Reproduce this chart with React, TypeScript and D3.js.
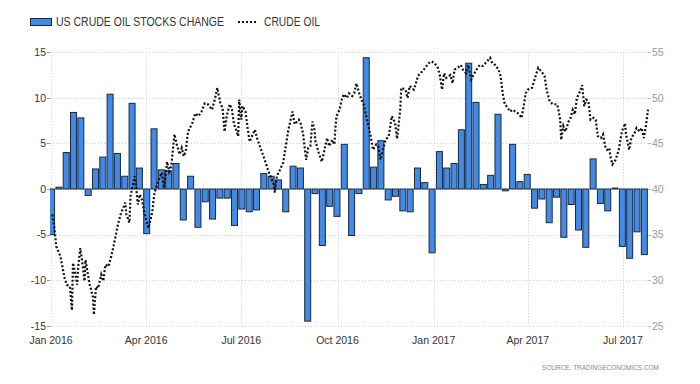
import React from "react";
import * as d3 from "d3";

// weekly change in US crude stocks (million barrels), one bar per week from 1 Jan 2016
const stockChanges = [
  -5.0, 0.2, 4.0, 8.4, 7.8, -0.7, 2.2, 3.5, 10.4, 3.9, 1.4, 9.4, 2.3, -4.9, 6.6, 2.1,
  2.0, 2.8, -3.4, 1.4, -4.2, -1.4, -3.3, -1.0, -1.0, -4.0, -2.2, -2.5, -2.3, 1.7, 1.4,
  1.0, -2.5, 2.5, 2.3, -14.5, -0.5, -6.2, -1.9, -3.0, 4.9, -5.1, -0.5, 14.4, 2.4, 5.3,
  -1.2, -0.8, -2.4, -2.5, 2.3, 0.7, -7.0, 4.1, 2.3, 2.8, 6.5, 13.8, 9.5, 0.5, 1.5, 8.2,
  -0.2, 4.9, 0.8, 1.6, -2.1, -1.1, -3.7, -0.9, -5.3, -1.7, -4.5, -6.4, 3.3, -1.6, -2.4,
  0.1, -6.3, -7.6, -4.7, -7.2,
];
const firstWeek = "2016-01-01";

// crude oil price (USD/bbl), right axis
const crudeOil: [string, number][] = [
  ["2016-01-02", 37.2], ["2016-01-04", 35.9], ["2016-01-06", 33.7], ["2016-01-10", 32.6],
  ["2016-01-13", 30.8], ["2016-01-14", 30.2], ["2016-01-16", 29.5], ["2016-01-19", 29.3],
  ["2016-01-21", 26.7], ["2016-01-22", 31.9], ["2016-01-24", 30.8], ["2016-01-26", 29.5],
  ["2016-01-27", 31.5], ["2016-01-29", 33.5], ["2016-01-31", 31.9], ["2016-02-02", 29.9],
  ["2016-02-03", 32.2], ["2016-02-05", 30.8], ["2016-02-07", 29.5], ["2016-02-10", 28.2],
  ["2016-02-11", 26.2], ["2016-02-13", 29.3], ["2016-02-15", 29.1], ["2016-02-18", 30.6],
  ["2016-02-20", 29.9], ["2016-02-22", 31.7], ["2016-02-25", 31.5], ["2016-02-28", 32.8],
  ["2016-03-02", 34.4], ["2016-03-05", 36.1], ["2016-03-08", 37.4], ["2016-03-10", 37.9],
  ["2016-03-12", 38.5], ["2016-03-13", 37.2], ["2016-03-16", 36.3], ["2016-03-17", 39.2],
  ["2016-03-19", 40.3], ["2016-03-21", 41.4], ["2016-03-22", 40.7], ["2016-03-24", 38.3],
  ["2016-03-26", 39.4], ["2016-03-28", 38.8], ["2016-03-30", 37.5], ["2016-04-03", 35.7],
  ["2016-04-06", 37.0], ["2016-04-07", 37.7], ["2016-04-09", 39.6], ["2016-04-13", 41.0],
  ["2016-04-16", 41.8], ["2016-04-18", 40.1], ["2016-04-21", 43.0], ["2016-04-23", 41.9],
  ["2016-04-25", 42.5], ["2016-04-28", 46.0], ["2016-04-30", 45.0], ["2016-05-03", 43.8],
  ["2016-05-05", 44.5], ["2016-05-07", 43.6], ["2016-05-09", 44.3], ["2016-05-11", 46.3],
  ["2016-05-15", 47.2], ["2016-05-18", 48.3], ["2016-05-21", 48.0], ["2016-05-24", 48.5],
  ["2016-05-27", 49.4], ["2016-05-30", 49.3], ["2016-06-03", 48.7], ["2016-06-06", 50.0],
  ["2016-06-08", 51.1], ["2016-06-11", 49.4], ["2016-06-13", 48.9], ["2016-06-15", 46.3],
  ["2016-06-17", 48.0], ["2016-06-20", 49.3], ["2016-06-22", 48.7], ["2016-06-24", 47.1],
  ["2016-06-26", 46.5], ["2016-06-28", 45.8], ["2016-06-29", 49.8], ["2016-07-01", 47.6],
  ["2016-07-02", 49.1], ["2016-07-05", 48.5], ["2016-07-07", 46.7], ["2016-07-09", 45.2],
  ["2016-07-12", 46.0], ["2016-07-14", 46.5], ["2016-07-16", 45.6], ["2016-07-20", 44.3],
  ["2016-07-24", 43.0], ["2016-07-27", 41.9], ["2016-07-29", 41.4], ["2016-08-01", 40.5],
  ["2016-08-02", 39.6], ["2016-08-04", 41.4], ["2016-08-07", 42.1], ["2016-08-10", 42.9],
  ["2016-08-12", 44.3], ["2016-08-15", 46.5], ["2016-08-19", 48.5], ["2016-08-21", 47.1],
  ["2016-08-25", 47.6], ["2016-08-27", 47.1], ["2016-08-29", 46.1], ["2016-09-01", 43.2],
  ["2016-09-03", 44.5], ["2016-09-05", 44.7], ["2016-09-07", 47.4], ["2016-09-09", 46.5],
  ["2016-09-10", 45.2], ["2016-09-13", 44.0], ["2016-09-16", 43.0], ["2016-09-18", 44.0],
  ["2016-09-21", 45.6], ["2016-09-23", 44.7], ["2016-09-26", 45.4], ["2016-09-28", 44.9],
  ["2016-09-29", 46.7], ["2016-09-30", 48.0], ["2016-10-03", 48.7], ["2016-10-05", 49.8],
  ["2016-10-07", 50.4], ["2016-10-10", 50.0], ["2016-10-12", 50.5], ["2016-10-15", 50.2],
  ["2016-10-17", 50.5], ["2016-10-19", 51.6], ["2016-10-22", 50.4], ["2016-10-24", 49.8],
  ["2016-10-26", 49.3], ["2016-10-28", 48.2], ["2016-10-31", 46.7], ["2016-11-02", 45.6],
  ["2016-11-04", 44.3], ["2016-11-07", 44.9], ["2016-11-09", 44.7], ["2016-11-11", 43.2],
  ["2016-11-14", 44.5], ["2016-11-16", 45.4], ["2016-11-19", 45.8], ["2016-11-22", 48.0],
  ["2016-11-25", 47.3], ["2016-11-27", 45.5], ["2016-11-28", 46.5], ["2016-11-30", 48.7],
  ["2016-12-01", 51.1], ["2016-12-05", 50.9], ["2016-12-07", 50.0], ["2016-12-09", 51.3],
  ["2016-12-13", 50.9], ["2016-12-15", 51.6], ["2016-12-17", 52.4], ["2016-12-21", 52.9],
  ["2016-12-24", 53.3], ["2016-12-27", 53.8], ["2016-12-30", 54.0], ["2017-01-02", 53.8],
  ["2017-01-05", 53.3], ["2017-01-07", 52.4], ["2017-01-09", 50.9], ["2017-01-11", 52.7],
  ["2017-01-13", 52.2], ["2017-01-17", 52.5], ["2017-01-19", 51.6], ["2017-01-21", 53.1],
  ["2017-01-24", 53.3], ["2017-01-27", 53.6], ["2017-01-29", 53.1], ["2017-02-01", 52.7],
  ["2017-02-03", 53.6], ["2017-02-06", 52.0], ["2017-02-08", 52.5], ["2017-02-11", 53.1],
  ["2017-02-14", 53.6], ["2017-02-17", 53.5], ["2017-02-21", 54.0], ["2017-02-24", 54.4],
  ["2017-02-26", 53.8], ["2017-03-01", 53.6], ["2017-03-04", 53.1], ["2017-03-06", 52.4],
  ["2017-03-08", 50.5], ["2017-03-10", 49.3], ["2017-03-13", 48.9], ["2017-03-15", 48.5],
  ["2017-03-18", 48.7], ["2017-03-20", 48.5], ["2017-03-24", 48.2], ["2017-03-26", 47.8],
  ["2017-03-28", 49.0], ["2017-03-30", 50.5], ["2017-04-01", 50.9], ["2017-04-05", 51.1],
  ["2017-04-08", 52.2], ["2017-04-11", 53.3], ["2017-04-14", 52.9], ["2017-04-17", 52.4],
  ["2017-04-19", 50.9], ["2017-04-22", 49.6], ["2017-04-25", 49.3], ["2017-04-29", 49.3],
  ["2017-04-30", 48.9], ["2017-05-02", 47.6], ["2017-05-03", 45.4], ["2017-05-05", 46.9],
  ["2017-05-07", 46.3], ["2017-05-10", 47.4], ["2017-05-12", 47.8], ["2017-05-14", 48.7],
  ["2017-05-16", 48.2], ["2017-05-18", 50.0], ["2017-05-21", 50.7], ["2017-05-23", 51.4],
  ["2017-05-25", 49.1], ["2017-05-27", 49.8], ["2017-05-29", 49.6], ["2017-05-31", 47.6],
  ["2017-06-03", 47.8], ["2017-06-05", 47.6], ["2017-06-07", 45.8], ["2017-06-10", 45.6],
  ["2017-06-12", 46.0], ["2017-06-14", 44.7], ["2017-06-16", 44.3], ["2017-06-18", 44.5],
  ["2017-06-19", 43.6], ["2017-06-21", 42.7], ["2017-06-24", 43.2], ["2017-06-27", 44.3],
  ["2017-06-30", 46.3], ["2017-07-03", 47.2], ["2017-07-04", 46.0], ["2017-07-07", 44.3],
  ["2017-07-09", 45.6], ["2017-07-12", 46.1], ["2017-07-14", 46.7], ["2017-07-17", 46.3],
  ["2017-07-19", 46.7], ["2017-07-21", 45.6], ["2017-07-23", 46.9], ["2017-07-25", 48.7],
];

const leftTicks = [-15, -10, -5, 0, 5, 10, 15];
const rightTicks = [25, 30, 35, 40, 45, 50, 55];
const xTickDates = ["2016-01-01", "2016-04-01", "2016-07-01", "2016-10-01", "2017-01-01", "2017-04-01", "2017-07-01"];
const xTickLabels = ["Jan 2016", "Apr 2016", "Jul 2016", "Oct 2016", "Jan 2017", "Apr 2017", "Jul 2017"];

const W = 700;
const H = 384;
const plot = { left: 50, right: 648, top: 52.3, bottom: 325.7 };
const font = "'Liberation Sans', Arial, sans-serif";
const barFill = "#428ae6";
const barStroke = "#1c2836";

const parse = d3.timeParse("%Y-%m-%d");

export default function App() {
  const x = d3
    .scaleTime()
    .domain([parse("2015-12-31")!, parse("2017-07-25")!])
    .range([plot.left, plot.right]);
  const yL = d3.scaleLinear().domain([-15, 15]).range([plot.bottom, plot.top]);
  const yR = d3.scaleLinear().domain([25, 55]).range([plot.bottom, plot.top]);

  const start = parse(firstWeek)!;
  const bars = stockChanges.map((v, i) => ({
    date: d3.timeHour.offset(start, i * 7 * 24 + 12),
    value: v,
  }));
  const barW = (x(d3.timeDay.offset(start, 7)) - x(start)) * 0.82;

  const oil = crudeOil.map(([d, p]) => ({ date: parse(d)!, price: p }));
  const line = d3
    .line<{ date: Date; price: number }>()
    .x((d) => x(d.date))
    .y((d) => yR(d.price));

  return (
    <svg
      width={W}
      height={H}
      style={{ position: "absolute", left: 0, top: 0, background: "#fff" }}
      fontFamily={font}
    >
      <defs>
        <clipPath id="plotClip">
          <rect x={plot.left} y={0} width={plot.right - plot.left + 2} height={H} />
        </clipPath>
      </defs>

      {/* legend */}
      <rect x={30.5} y={18.5} width={21} height={7} fill={barFill} stroke={barStroke} strokeWidth={1} />
      <text x={56} y={26} fontSize={12.5} fill="#333" textLength={168} lengthAdjust="spacingAndGlyphs">
        US CRUDE OIL STOCKS CHANGE
      </text>
      <line x1={238} x2={257} y1={22} y2={22} stroke="#111" strokeWidth={2} strokeDasharray="2,2" />
      <text x={264} y={26} fontSize={12.5} fill="#333" textLength={56} lengthAdjust="spacingAndGlyphs">
        CRUDE OIL
      </text>

      {/* grid */}
      {leftTicks.map((t) => (
        <line
          key={"h" + t}
          x1={plot.left}
          x2={plot.right + 3}
          y1={Math.round(yL(t)) + 0.5}
          y2={Math.round(yL(t)) + 0.5}
          stroke="#cfcfcf"
          strokeDasharray="1,2"
        />
      ))}
      {xTickDates.map((d) => (
        <line
          key={"v" + d}
          x1={Math.round(x(parse(d)!)) + 0.5}
          x2={Math.round(x(parse(d)!)) + 0.5}
          y1={plot.top}
          y2={plot.bottom + 3}
          stroke="#cfcfcf"
          strokeDasharray="1,2"
        />
      ))}

      {/* left axis */}
      {leftTicks.map((t) => (
        <g key={"l" + t}>
          <line x1={47} x2={50} y1={Math.round(yL(t)) + 0.5} y2={Math.round(yL(t)) + 0.5} stroke="#999" />
          <text x={46} y={yL(t) + 3.8} fontSize={10.5} fill="#333" textAnchor="end">
            {t}
          </text>
        </g>
      ))}

      {/* right axis */}
      {rightTicks.map((t) => (
        <g key={"r" + t}>
          <line x1={648} x2={651} y1={Math.round(yR(t)) + 0.5} y2={Math.round(yR(t)) + 0.5} stroke="#bbb" />
          <text x={652} y={yR(t) + 3.8} fontSize={10.5} fill="#9a9a9a">
            {t}
          </text>
        </g>
      ))}

      {/* x axis labels */}
      {xTickDates.map((d, i) => (
        <text key={"x" + d} x={x(parse(d)!)} y={344} fontSize={10.5} fill="#333" textAnchor="middle">
          {xTickLabels[i]}
        </text>
      ))}

      {/* bars */}
      <g clipPath="url(#plotClip)">
        {bars.map((b, i) => {
          const y0 = yL(0);
          const y1 = yL(b.value);
          return (
            <rect
              key={i}
              x={x(b.date) - barW / 2}
              y={Math.min(y0, y1)}
              width={barW}
              height={Math.max(Math.abs(y1 - y0), 0.5)}
              fill={barFill}
              stroke={barStroke}
              strokeWidth={1}
            />
          );
        })}
      </g>

      {/* crude oil line */}
      <path d={line(oil) ?? ""} fill="none" stroke="#111" strokeWidth={2.2} strokeDasharray="2,2" />

      <text x={659} y={370} fontSize={7.5} fill="#888" textAnchor="end" textLength={117} lengthAdjust="spacingAndGlyphs">
        SOURCE: TRADINGECONOMICS.COM
      </text>
    </svg>
  );
}
